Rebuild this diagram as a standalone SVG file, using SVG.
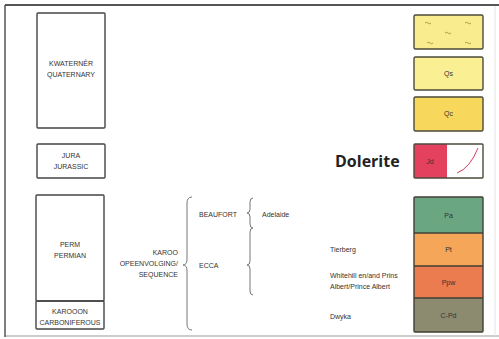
<svg xmlns="http://www.w3.org/2000/svg" width="499" height="339" viewBox="0 0 499 339">
<style>
.t{font-family:"Liberation Sans",Arial,sans-serif;font-size:7px;fill:#333}
.m{text-anchor:middle}
.e{text-anchor:end}
.b{fill:none;stroke:#444;stroke-width:1.4}
.u{stroke:#4a4a3a;stroke-width:1.4}
.br{fill:none;stroke:#777;stroke-width:1}
</style>
<rect width="499" height="339" fill="#fff"/>
<g id="frame">
<line x1="5" y1="336" x2="499" y2="336" stroke="#bbb" stroke-width="1.5"/>
<line x1="495" y1="5" x2="495" y2="336" stroke="#e4e4e4" stroke-width="1"/>
<line x1="5" y1="5" x2="499" y2="5" stroke="#555" stroke-width="2"/>
<line x1="5" y1="5" x2="5" y2="337" stroke="#555" stroke-width="1.5"/>
</g>
<g id="quaternary">
<rect class="b" x="37" y="13" width="68" height="115" rx="1"/>
<text class="t m" x="71" y="66">KWATERNÊR</text>
<text class="t m" x="71" y="77">QUATERNARY</text>
</g>
<g id="jurassic">
<rect class="b" x="37" y="144" width="68" height="34" rx="1"/>
<text class="t m" x="71" y="158">JURA</text>
<text class="t m" x="71" y="169">JURASSIC</text>
</g>
<g id="permian">
<rect class="b" x="36" y="195" width="68" height="106" rx="1"/>
<text class="t m" x="70" y="247">PERM</text>
<text class="t m" x="70" y="258">PERMIAN</text>
</g>
<g id="carboniferous">
<rect class="b" x="36" y="301" width="68" height="28" rx="1"/>
<text class="t m" x="70" y="314">KAROOON</text>
<text class="t m" x="70" y="325">CARBONIFEROUS</text>
</g>
<g id="karoo">
<text class="t e" x="178" y="255">KAROO</text>
<text class="t e" x="178" y="266">OPEENVOLGING/</text>
<text class="t e" x="178" y="277">SEQUENCE</text>
</g>
<g id="connectors">
<path class="br" d="M192,197 Q187,197 187,203 L187,259 Q187,265 183,265 Q187,265 187,271 L187,324 Q187,330 192,330"/>
<path class="br" d="M253,198 Q250,198 250,202 L250,209 Q250,213 247,213 Q250,213 250,217 L250,224 Q250,228 253,228"/>
<path class="br" d="M253,228 Q250,228 250,232 L250,261 Q250,265 247,265 Q250,265 250,269 L250,291 Q250,295 253,295"/>
</g>
<g id="beaufort"><text class="t" x="199" y="217">BEAUFORT</text></g>
<g id="ecca"><text class="t" x="199" y="268">ECCA</text></g>
<g id="adelaide"><text class="t" x="262" y="217">Adelaide</text></g>
<g id="tierberg"><text class="t" x="330" y="252">Tierberg</text></g>
<g id="whitehill">
<text class="t" x="330" y="278">Whitehill en/and Prins</text>
<text class="t" x="330" y="289">Albert/Prince Albert</text>
</g>
<g id="dwyka"><text class="t" x="330" y="319">Dwyka</text></g>
<g id="dolerite">
<text x="335" y="167" style="font-family:'Open Sans','DejaVu Sans',sans-serif;font-size:16px;font-weight:bold;fill:#222">Dolerite</text>
</g>
<g id="unit-q1">
<rect class="u" x="414" y="15" width="69" height="34" rx="1.5" fill="#f9ec8e"/>
<g fill="none" stroke="#8a7a30" stroke-width="0.7">
<path d="M425,23 q1.5,-1.5 3,0 t3,0"/>
<path d="M465,23 q1.5,-1.5 3,0 t3,0"/>
<path d="M445,33 q1.5,-1.5 3,0 t3,0"/>
<path d="M427,43 q1.5,-1.5 3,0 t3,0"/>
<path d="M465,43 q1.5,-1.5 3,0 t3,0"/>
</g>
</g>
<g id="unit-qs">
<rect class="u" x="414" y="57" width="69" height="33" rx="1.5" fill="#fbef94"/>
<text class="t m" x="448.5" y="76">Qs</text>
</g>
<g id="unit-qc">
<rect class="u" x="414" y="97" width="69" height="34" rx="1.5" fill="#f8d85c"/>
<text class="t m" x="448.5" y="116">Qc</text>
</g>
<g id="unit-jd">
<rect x="414" y="144" width="33" height="34" fill="#e4415f"/>
<rect x="447" y="144" width="36" height="34" fill="#fff"/>
<rect class="u" x="414" y="144" width="69" height="34" rx="1" fill="none" stroke="#555"/>
<path d="M457,173 Q470,168 478,148" fill="none" stroke="#d63a5a" stroke-width="1"/>
<text class="t m" x="430" y="164">Jd</text>
</g>
<g id="unit-pa">
<rect x="414" y="197" width="69" height="36" fill="#6ba682"/>
<text class="t m" x="448.5" y="218">Pa</text>
</g>
<g id="unit-pt">
<rect x="414" y="233" width="69" height="33" fill="#f5a659"/>
<text class="t m" x="448.5" y="252">Pt</text>
</g>
<g id="unit-ppw">
<rect x="414" y="266" width="69" height="32" fill="#ea7c50"/>
<text class="t m" x="448.5" y="285">Ppw</text>
</g>
<g id="unit-cpd">
<rect x="414" y="298" width="69" height="34" fill="#8c8b70"/>
<text class="t m" x="448.5" y="318">C-Pd</text>
</g>
<g id="column-lines" fill="none" stroke="#3f3f35" stroke-width="1.4">
<rect x="414" y="197" width="69" height="135" rx="1"/>
<line x1="414" y1="233" x2="483" y2="233"/>
<line x1="414" y1="266" x2="483" y2="266"/>
<line x1="414" y1="298" x2="483" y2="298"/>
</g>
</svg>
